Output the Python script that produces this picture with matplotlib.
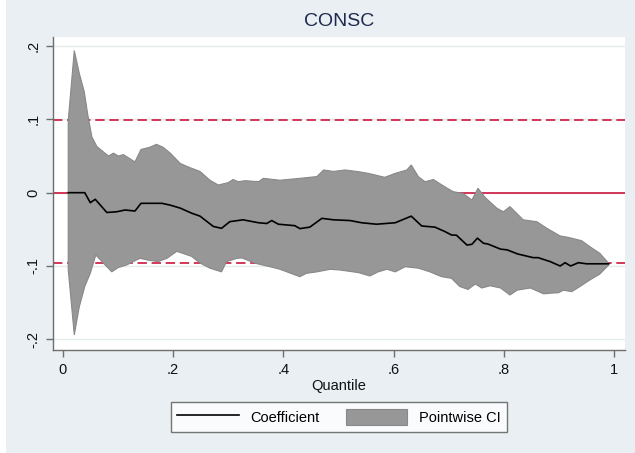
import matplotlib
matplotlib.use("Agg")
import matplotlib.patches as mpatches
import matplotlib.lines as mlines
import matplotlib.pyplot as plt
import numpy as np

plt.rcParams["font.family"] = ["Liberation Sans", "DejaVu Sans"]

# =============================================================================
# DATA
# =============================================================================
q_coef = [0.010, 0.040, 0.050, 0.059, 0.080, 0.098, 0.113, 0.131, 0.142, 0.180,
          0.195, 0.213, 0.234, 0.249, 0.273, 0.288, 0.303, 0.327, 0.355, 0.370,
          0.379, 0.391, 0.421, 0.430, 0.448, 0.470, 0.491, 0.521, 0.542, 0.569,
          0.603, 0.632, 0.651, 0.675, 0.693, 0.705, 0.714, 0.733, 0.742, 0.752,
          0.763, 0.771, 0.794, 0.806, 0.825, 0.853, 0.862, 0.884, 0.902, 0.911,
          0.921, 0.935, 0.950, 0.990]
coef = [0.0, 0.0, -0.0136, -0.009, -0.027, -0.026, -0.0236, -0.025, -0.0145, -0.0145,
        -0.017, -0.021, -0.028, -0.032, -0.046, -0.0486, -0.0395, -0.037, -0.041, -0.042,
        -0.038, -0.043, -0.045, -0.049, -0.047, -0.035, -0.037, -0.038, -0.041, -0.043,
        -0.041, -0.032, -0.0454, -0.047, -0.053, -0.0577, -0.058, -0.0714, -0.0704, -0.062,
        -0.069, -0.070, -0.077, -0.078, -0.0836, -0.0886, -0.0886, -0.094, -0.100, -0.0955,
        -0.100, -0.0955, -0.097, -0.097]

q_upper = [0.010, 0.021, 0.030, 0.039, 0.046, 0.053, 0.062, 0.083, 0.092, 0.101,
           0.110, 0.131, 0.142, 0.158, 0.170, 0.182, 0.195, 0.213, 0.228, 0.249,
           0.267, 0.282, 0.300, 0.309, 0.318, 0.331, 0.355, 0.364, 0.394, 0.430,
           0.461, 0.473, 0.491, 0.512, 0.536, 0.554, 0.584, 0.603, 0.624, 0.632,
           0.645, 0.657, 0.672, 0.693, 0.708, 0.726, 0.742, 0.753, 0.766, 0.787,
           0.799, 0.811, 0.835, 0.860, 0.878, 0.902, 0.917, 0.941, 0.956, 0.974,
           0.990]
ci_upper = [0.098, 0.194, 0.163, 0.138, 0.104, 0.076, 0.063, 0.050, 0.054, 0.050,
            0.052, 0.042, 0.059, 0.062, 0.066, 0.062, 0.054, 0.040, 0.035, 0.029,
            0.017, 0.0105, 0.0137, 0.018, 0.015, 0.0164, 0.015, 0.0196, 0.017, 0.0196,
            0.022, 0.031, 0.029, 0.031, 0.0287, 0.0264, 0.021, 0.0264, 0.031, 0.0378,
            0.0218, 0.015, 0.018, 0.008, 0.0014, -0.001, -0.010, 0.006, -0.0065, -0.021,
            -0.026, -0.019, -0.037, -0.0396, -0.0486, -0.059, -0.061, -0.0655, -0.0737, -0.0827,
            -0.0963]

q_lower = [0.010, 0.021, 0.030, 0.040, 0.050, 0.060, 0.077, 0.089, 0.101, 0.116,
           0.140, 0.155, 0.173, 0.189, 0.207, 0.234, 0.249, 0.267, 0.288, 0.297,
           0.316, 0.325, 0.349, 0.376, 0.394, 0.430, 0.442, 0.461, 0.485, 0.503,
           0.536, 0.557, 0.572, 0.588, 0.603, 0.621, 0.645, 0.666, 0.687, 0.705,
           0.720, 0.735, 0.748, 0.760, 0.775, 0.794, 0.811, 0.824, 0.848, 0.872,
           0.887, 0.899, 0.908, 0.923, 0.938, 0.956, 0.974, 0.990]
ci_lower = [-0.105, -0.194, -0.156, -0.128, -0.110, -0.085, -0.0986, -0.108, -0.102, -0.0986,
            -0.0895, -0.092, -0.094, -0.0895, -0.080, -0.087, -0.096, -0.103, -0.108, -0.094,
            -0.0895, -0.089, -0.0963, -0.101, -0.1045, -0.1146, -0.110, -0.108, -0.1045, -0.1055,
            -0.109, -0.1136, -0.108, -0.1045, -0.108, -0.101, -0.103, -0.108, -0.1146, -0.1168,
            -0.128, -0.132, -0.1246, -0.130, -0.127, -0.130, -0.1396, -0.133, -0.130, -0.138,
            -0.137, -0.1365, -0.133, -0.135, -0.128, -0.119, -0.111, -0.0986]

ols_coef = 0.0
ols_ci = (-0.0955, 0.099)

x_ticks = [0, 0.2, 0.4, 0.6, 0.8, 1]
x_labels = ["0", ".2", ".4", ".6", ".8", "1"]
y_ticks = [-0.2, -0.1, 0, 0.1, 0.2]
y_labels = ["-.2", "-.1", "0", ".1", ".2"]

BG = "#E9EFF2"
BAND = "#979797"
BAND_EDGE = "#888888"
RED = "#D0284C"
GRID = "#E4ECEF"

# =============================================================================
# PLOT
# =============================================================================
fig = plt.figure(figsize=(6.35, 4.53), dpi=100)
fig.patch.set_facecolor("white")
fig.add_artist(mpatches.Rectangle((6 / 635, 0), 1, 1, transform=fig.transFigure,
                                  facecolor=BG, edgecolor="none", zorder=-10))

ax = fig.add_axes([53 / 635, 1 - 350 / 453, 572 / 635, 313 / 453])
ax.set_facecolor("white")

for y in y_ticks:
    ax.axhline(y, color=GRID, lw=1.0, zorder=0)

band_x = np.r_[q_upper, q_lower[::-1]]
band_y = np.r_[ci_upper, ci_lower[::-1]]
ax.fill(band_x, band_y, facecolor=BAND, edgecolor=BAND_EDGE, lw=0.8, zorder=2)

ax.axhline(ols_coef, color=RED, lw=1.3, zorder=1)
for v in ols_ci:
    ax.axhline(v, color=RED, lw=1.3, ls=(0, (5.2, 2.6)), zorder=1)

ax.plot(q_coef, coef, color="black", lw=1.2, zorder=3)

ax.set_xlim(-0.0176, 1.0196)
ax.set_ylim(-0.2146, 0.2124)
ax.set_xticks(x_ticks)
ax.set_xticklabels(x_labels, fontsize=10.5)
ax.set_yticks(y_ticks)
ax.set_yticklabels(y_labels, fontsize=10.5, rotation=90, va="center")
ax.tick_params(axis="both", direction="out", length=5, width=1, color="#6E6E6E",
               labelcolor="#111111", pad=4)

ax.spines[["top", "right"]].set_visible(False)
ax.spines[["left", "bottom"]].set_color("#6E6E6E")
ax.spines[["left", "bottom"]].set_linewidth(1.0)

ax.set_xlabel("Quantile", fontsize=10.5, labelpad=2, color="#111111")
fig.text(339 / 635, 1 - 22 / 453, "CONSC", ha="center", va="center",
         fontsize=14, color="#1E2A4F")

handles = [
    mlines.Line2D([], [], color="black", lw=1.2),
    mpatches.Patch(facecolor=BAND, edgecolor=BAND_EDGE, lw=0.8),
]
leg = fig.legend(handles, ["Coefficient", "Pointwise CI"], ncol=2,
                 loc="center", bbox_to_anchor=(339 / 635, 1 - 417 / 453),
                 fontsize=10.5, frameon=True, fancybox=False,
                 handlelength=4.2, handleheight=1.4, columnspacing=1.8,
                 handletextpad=0.8, borderpad=0.45)
leg.get_frame().set_edgecolor("#555555")
leg.get_frame().set_linewidth(1.0)

fig.savefig("out.png", dpi=100, facecolor=fig.get_facecolor())
